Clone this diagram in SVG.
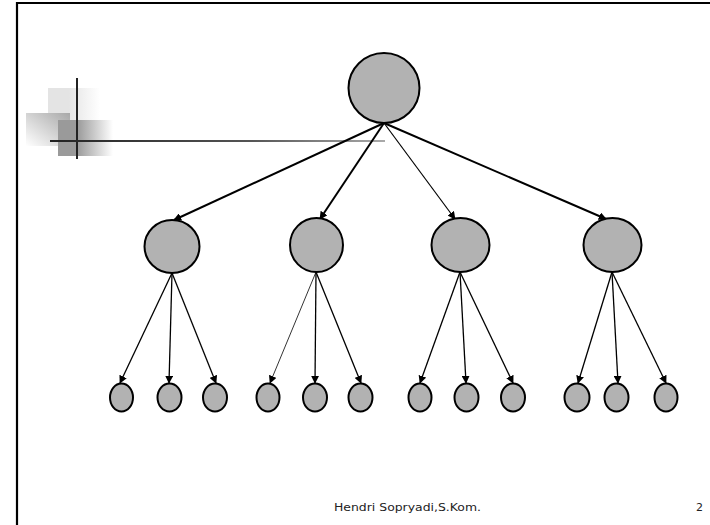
<svg xmlns="http://www.w3.org/2000/svg" width="710" height="525" viewBox="0 0 710 525">
<style>
.n{fill:#b2b2b2;stroke:#000;stroke-width:2}
.c{stroke:#000;fill:none;marker-end:url(#ah)}
.t{font-family:"DejaVu Sans",Verdana,sans-serif;font-size:11px;fill:#222}
</style>
<defs>
<marker id="ah" viewBox="0 0 10 10" refX="9" refY="5" markerWidth="8" markerHeight="8" markerUnits="userSpaceOnUse" orient="auto">
<path d="M0,0 L10,5 L0,10 z" fill="#000"/>
</marker>
<linearGradient id="g1" x1="0" x2="1" y1="0" y2="0"><stop offset="0.4" stop-color="#e4e4e4"/><stop offset="1" stop-color="#fff"/></linearGradient>
<linearGradient id="g2" x1="1" x2="0" y1="0" y2="1"><stop offset="0" stop-color="#a8a8a8"/><stop offset="1" stop-color="#fff"/></linearGradient>
<linearGradient id="g3" x1="0" x2="1" y1="0" y2="0"><stop offset="0.35" stop-color="#9a9a9a"/><stop offset="1" stop-color="#fff"/></linearGradient>
<linearGradient id="g4" x1="0" x2="1" y1="0" y2="0"><stop offset="0" stop-color="#222"/><stop offset="0.6" stop-color="#555"/><stop offset="1" stop-color="#aaa"/></linearGradient>
</defs>
<rect width="710" height="525" fill="#fff"/>
<g id="frame">
<path d="M17,525 V3 H710" fill="none" stroke="#000" stroke-width="2.2"/>
</g>
<g id="decor">
<rect x="48" y="88" width="52" height="32" fill="url(#g1)"/>
<rect x="26" y="113" width="44" height="33" fill="url(#g2)"/>
<rect x="58" y="120" width="55" height="36" fill="url(#g3)"/>
<line x1="77" y1="78" x2="77" y2="159" stroke="#222" stroke-width="2"/>
<rect x="50" y="140" width="335" height="2" fill="url(#g4)"/>
</g>
<g id="connectors">
<line class="c" x1="384" y1="123" x2="174" y2="220" stroke-width="2"/>
<line class="c" x1="384" y1="123" x2="320" y2="219" stroke-width="2"/>
<line class="c" x1="384" y1="123" x2="455" y2="219" stroke-width="1.2"/>
<line class="c" x1="384" y1="123" x2="606" y2="219" stroke-width="2"/>
<line class="c" x1="172" y1="273" x2="120" y2="383" stroke-width="1.3"/>
<line class="c" x1="172" y1="273" x2="169" y2="383" stroke-width="1.3"/>
<line class="c" x1="172" y1="273" x2="216" y2="383" stroke-width="1.3"/>
<line class="c" x1="316" y1="272" x2="270" y2="383" stroke="#888" stroke-width="0.8"/>
<line class="c" x1="316" y1="272" x2="315" y2="383" stroke-width="1.3"/>
<line class="c" x1="316" y1="272" x2="361" y2="383" stroke-width="1.3"/>
<line class="c" x1="460" y1="272" x2="420" y2="383" stroke-width="1.3"/>
<line class="c" x1="460" y1="272" x2="466" y2="383" stroke-width="1.3"/>
<line class="c" x1="460" y1="272" x2="513" y2="383" stroke-width="1.3"/>
<line class="c" x1="612" y1="272" x2="578" y2="383" stroke-width="1.3"/>
<line class="c" x1="612" y1="272" x2="618" y2="383" stroke-width="1.3"/>
<line class="c" x1="612" y1="272" x2="666" y2="383" stroke-width="1.3"/>
</g>
<g id="root"><ellipse class="n" cx="384" cy="88" rx="35.5" ry="35"/></g>
<g id="a"><ellipse class="n" cx="172" cy="246.5" rx="27.5" ry="26.5"/></g>
<g id="b"><ellipse class="n" cx="316.5" cy="245" rx="26.5" ry="27"/></g>
<g id="c"><ellipse class="n" cx="460.5" cy="245" rx="29" ry="27"/></g>
<g id="d"><ellipse class="n" cx="612.5" cy="245" rx="29" ry="27"/></g>
<g id="a1"><ellipse class="n" cx="121.5" cy="397.5" rx="11.5" ry="14"/></g>
<g id="a2"><ellipse class="n" cx="169.5" cy="397.5" rx="12" ry="14"/></g>
<g id="a3"><ellipse class="n" cx="215" cy="397.5" rx="12" ry="14"/></g>
<g id="b1"><ellipse class="n" cx="268" cy="397.5" rx="11.5" ry="14"/></g>
<g id="b2"><ellipse class="n" cx="315" cy="397.5" rx="12" ry="14"/></g>
<g id="b3"><ellipse class="n" cx="360.5" cy="397.5" rx="12" ry="14"/></g>
<g id="c1"><ellipse class="n" cx="420" cy="397.5" rx="11.5" ry="14"/></g>
<g id="c2"><ellipse class="n" cx="466.5" cy="397.5" rx="12" ry="14"/></g>
<g id="c3"><ellipse class="n" cx="513" cy="397.5" rx="12" ry="14"/></g>
<g id="d1"><ellipse class="n" cx="577" cy="397.5" rx="12.5" ry="14"/></g>
<g id="d2"><ellipse class="n" cx="616.5" cy="397.5" rx="12" ry="14"/></g>
<g id="d3"><ellipse class="n" cx="666" cy="397.5" rx="11.5" ry="14"/></g>
<g id="footer">
<text class="t" x="334" y="511" textLength="147" lengthAdjust="spacingAndGlyphs">Hendri Sopryadi,S.Kom.</text>
<text class="t" x="696" y="511">2</text>
</g>
</svg>
